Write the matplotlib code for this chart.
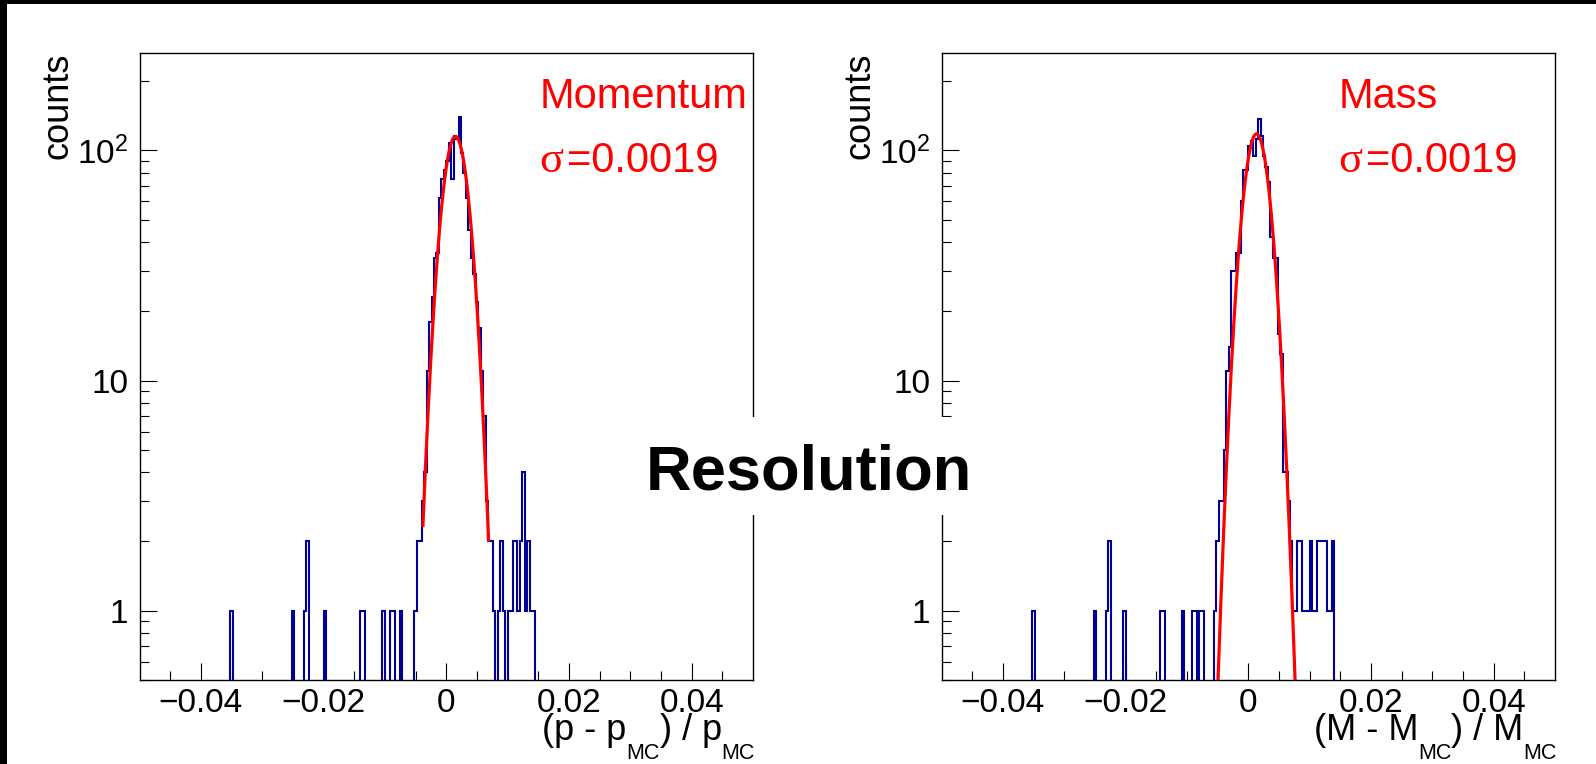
import numpy as np
import matplotlib
matplotlib.use("Agg")
import matplotlib.pyplot as plt
from matplotlib.ticker import FixedLocator, NullFormatter
from matplotlib.patches import Rectangle
from matplotlib.transforms import IdentityTransform

plt.rcParams['font.family'] = ['Liberation Sans', 'DejaVu Sans']
plt.rcParams['mathtext.fontset'] = 'custom'
plt.rcParams['mathtext.rm'] = 'Liberation Sans'
plt.rcParams['mathtext.it'] = 'Liberation Sans:italic'
plt.rcParams['mathtext.bf'] = 'Liberation Sans:bold'

# ---------------- data ----------------
bin_lo, bin_hi, n_bins = -0.05, 0.05, 250

# Momentum resolution histogram (non-empty bins: centre, counts)
mom_centres = [-0.0350, -0.0250, -0.0230, -0.0226, -0.0198, -0.0138, -0.0134,
               -0.0102, -0.0090, -0.0086, -0.0074,
               -0.0050, -0.0046, -0.0042, -0.0038, -0.0034, -0.0030, -0.0026,
               -0.0022, -0.0018, -0.0014, -0.0010, -0.0006, -0.0002,
               0.0002, 0.0006, 0.0010, 0.0014, 0.0018, 0.0022, 0.0026, 0.0030,
               0.0034, 0.0038, 0.0042, 0.0046, 0.0050, 0.0054, 0.0058, 0.0062,
               0.0066, 0.0070, 0.0074,
               0.0078, 0.0086, 0.0090, 0.0094, 0.0102, 0.0106, 0.0110, 0.0114,
               0.0118, 0.0122, 0.0126, 0.0130, 0.0134, 0.0138, 0.0142]
mom_counts = [1, 1, 1, 2, 1, 1, 1,
              1, 1, 1, 1,
              1, 2, 2, 3, 4, 11, 18,
              23, 34, 36, 62, 75, 82,
              90, 108, 75, 115, 112, 140, 97, 80,
              62, 45, 34, 29, 22, 17, 11, 7,
              3, 2, 2,
              1, 1, 2, 1, 1, 1, 2, 2,
              1, 2, 4, 1, 2, 1, 1]

# Mass resolution histogram (non-empty bins: centre, counts)
mass_centres = [-0.0350, -0.0250, -0.0230, -0.0226, -0.0202, -0.0142, -0.0138,
                -0.0106, -0.0090, -0.0086, -0.0078, -0.0074,
                -0.0054, -0.0050, -0.0046, -0.0042, -0.0038, -0.0034, -0.0030,
                -0.0026, -0.0022, -0.0018, -0.0014, -0.0010, -0.0006, -0.0002,
                0.0002, 0.0006, 0.0010, 0.0014, 0.0018, 0.0022, 0.0026, 0.0030,
                0.0034, 0.0038, 0.0042, 0.0046, 0.0050, 0.0054, 0.0058, 0.0062,
                0.0066, 0.0070, 0.0074,
                0.0078, 0.0082, 0.0086, 0.0090, 0.0094, 0.0098, 0.0102, 0.0106,
                0.0110, 0.0114, 0.0118, 0.0122, 0.0126, 0.0130, 0.0134, 0.0138]
mass_counts = [1, 1, 1, 2, 1, 1, 1,
               1, 1, 1, 1, 1,
               1, 2, 3, 3, 5, 11, 14,
               30, 30, 36, 36, 60, 82, 82,
               105, 110, 95, 112, 137, 115, 95, 85,
               73, 42, 34, 34, 16, 13, 4, 4,
               3, 2, 1,
               1, 2, 2, 1, 1, 1, 2, 1,
               1, 2, 2, 2, 2, 1, 1, 2]

# Gaussian fit results: (amplitude, mean, sigma, fit range lo, fit range hi)
mom_fit = (115.0, 0.0015, 0.0019, -0.0038, 0.0069)
mass_fit = (118.0, 0.00135, 0.0019, -0.0056, 0.0082)

x_ticks = [-0.04, -0.02, 0.0, 0.02, 0.04]
x_ticklabels = ['\u22120.04', '\u22120.02', '0', '0.02', '0.04']
y_ticks = [1, 10, 100]
y_ticklabels = ['1', '10', r'$\mathregular{10^{2}}$']
y_minor = [0.5, 0.6, 0.7, 0.8, 0.9, 2, 3, 4, 5, 6, 7, 8, 9,
           20, 30, 40, 50, 60, 70, 80, 90, 200]

# ---------------- figure ----------------
W, H = 1596, 764
fig = plt.figure(figsize=(W / 100, H / 100), dpi=100)
fig.patch.set_facecolor('white')


def px_rect(x0, y0, x1, y1):
    return [x0 / W, 1 - y1 / H, (x1 - x0) / W, (y1 - y0) / H]


axL = fig.add_axes(px_rect(139.5, 53, 753, 680))
axR = fig.add_axes(px_rect(941.5, 53, 1555, 680))

edges = np.linspace(bin_lo, bin_hi, n_bins + 1)
bw = (bin_hi - bin_lo) / n_bins


def draw_panel(ax, centres, counts, fit):
    h = np.zeros(n_bins)
    idx = np.round((np.array(centres) - bin_lo) / bw - 0.5).astype(int)
    h[idx] = counts
    vals = np.where(h > 0, h, 1e-3)
    ax.stairs(vals, edges, baseline=None, color='#000099', lw=1.5, zorder=2)
    A, mu, sig, lo, hi = fit
    xf = np.linspace(lo, hi, 400)
    ax.plot(xf, A * np.exp(-0.5 * ((xf - mu) / sig) ** 2), color='#ff0000',
            lw=2.3, zorder=3)
    ax.set_yscale('log')
    ax.set_xlim(bin_lo, bin_hi)
    ax.set_ylim(0.5, 265)
    ax.xaxis.set_major_locator(FixedLocator(x_ticks))
    ax.set_xticklabels(x_ticklabels)
    ax.xaxis.set_minor_locator(FixedLocator(np.arange(-0.045, 0.0451, 0.005)))
    ax.yaxis.set_major_locator(FixedLocator(y_ticks))
    ax.set_yticklabels(y_ticklabels)
    ax.yaxis.set_minor_locator(FixedLocator(y_minor))
    ax.yaxis.set_minor_formatter(NullFormatter())
    ax.tick_params(which='both', direction='in', top=False, right=False,
                   width=0.8, color='black', labelsize=24)
    ax.tick_params(which='major', length=12.5)
    ax.tick_params(which='minor', length=6.5)
    ax.tick_params(axis='x', which='major', pad=6)
    ax.tick_params(axis='y', which='major', pad=8)
    for s in ax.spines.values():
        s.set_linewidth(1.0)
        s.set_color('black')
    ax.text(-0.1328, 1.0, 'counts', transform=ax.transAxes, rotation=90,
            ha='center', va='top', fontsize=26)


draw_panel(axL, mom_centres, mom_counts, mom_fit)
draw_panel(axR, mass_centres, mass_counts, mass_fit)

ident = IdentityTransform()


def pxtext(x, y, s, **kw):
    return fig.text(x, H - y, s, transform=ident, **kw)


# legends
pxtext(539.5, 108, 'Momentum', color='#ff0000', fontsize=30, ha='left', va='baseline')
pxtext(539.5, 172, '\u03c3', color='#ff0000', fontsize=32, ha='left', va='baseline',
       family='Liberation Serif')
pxtext(567, 172, '=0.0019', color='#ff0000', fontsize=30, ha='left', va='baseline')

pxtext(1338.6, 108, 'Mass', color='#ff0000', fontsize=30, ha='left', va='baseline')
pxtext(1338.6, 172, '\u03c3', color='#ff0000', fontsize=32, ha='left', va='baseline',
       family='Liberation Serif')
pxtext(1366, 172, '=0.0019', color='#ff0000', fontsize=30, ha='left', va='baseline')

# axis titles composed of pieces (ROOT-style low subscripts)
renderer = fig.canvas.get_renderer()


def title_pieces(pieces, x_right):
    x = x_right
    for s, size, yb in reversed(pieces):
        t = pxtext(x, yb, s, ha='right', va='baseline', fontsize=size)
        x -= t.get_window_extent(renderer).width


main_sz, sub_sz, yb_main, yb_sub = 26, 15.5, 740, 759
title_pieces([('(p - p', main_sz, yb_main), ('MC', sub_sz, yb_sub),
              (') / p', main_sz, yb_main), ('MC', sub_sz, yb_sub)], 755)
title_pieces([('(M - M', main_sz, yb_main), ('MC', sub_sz, yb_sub),
              (') / M', main_sz, yb_main), ('MC', sub_sz, yb_sub)], 1557)

# central "Resolution" label on a white box
fig.add_artist(Rectangle((643 / W, 1 - 515 / H), 334 / W, 98 / H,
                         transform=fig.transFigure, facecolor='white',
                         edgecolor='none', zorder=5))
t = pxtext(809, 490, 'Resolution', fontsize=45.5, fontweight='bold', ha='center',
           va='baseline', color='black')
t.set_zorder(6)

# black borders (top and left)
fig.add_artist(Rectangle((0, 0), 7 / W, 1, transform=fig.transFigure,
                         facecolor='black', edgecolor='none', zorder=10))
fig.add_artist(Rectangle((0, 1 - 4 / H), 1, 4 / H, transform=fig.transFigure,
                         facecolor='black', edgecolor='none', zorder=10))

fig.savefig('out.png', dpi=100)
